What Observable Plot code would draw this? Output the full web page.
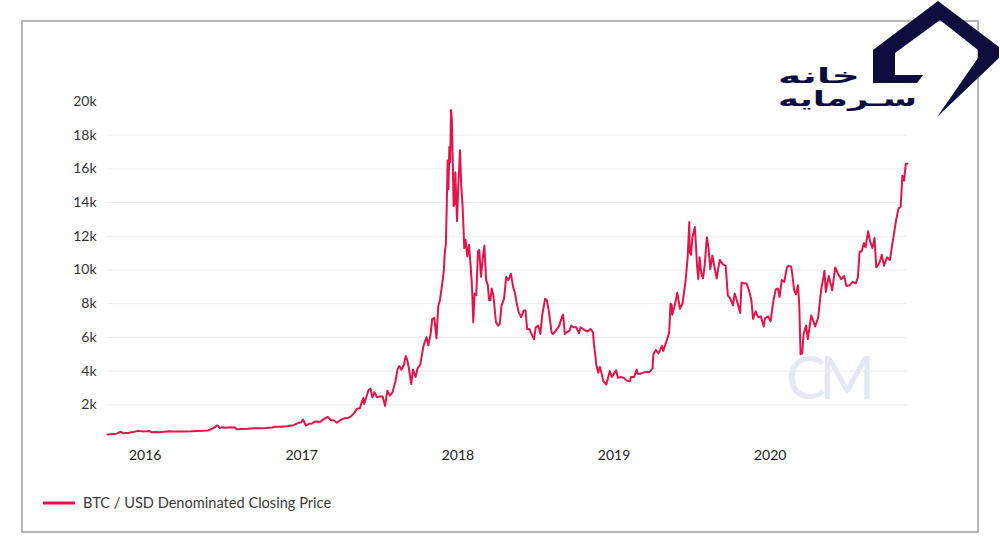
<!DOCTYPE html>
<html>
<head>
<meta charset="utf-8">
<script src="https://cdn.jsdelivr.net/npm/d3@7"></script>
<script src="https://cdn.jsdelivr.net/npm/@observablehq/plot@0.6"></script>
<style>
  html, body { margin: 0; padding: 0; background: #fff; }
  #chart { width: 1000px; height: 552px; }
</style>
</head>
<body>
<div id="chart"></div>
<script>
const dates = [
"2015-10-05","2015-10-12","2015-10-19","2015-10-26","2015-11-02","2015-11-04","2015-11-07","2015-11-11","2015-11-16","2015-11-23","2015-11-30","2015-12-07","2015-12-15","2015-12-21","2015-12-28",
"2016-01-04","2016-01-11","2016-01-15","2016-01-25","2016-02-01","2016-02-15","2016-02-25","2016-03-07","2016-03-21","2016-04-04","2016-04-18","2016-05-02","2016-05-16","2016-05-27","2016-06-06","2016-06-12","2016-06-16","2016-06-19","2016-06-23","2016-06-30","2016-07-07","2016-07-18","2016-07-29","2016-08-02","2016-08-15","2016-08-29","2016-09-12","2016-09-26","2016-10-10","2016-10-24","2016-10-31","2016-11-14","2016-11-28","2016-12-12","2016-12-23","2016-12-31",
"2017-01-04","2017-01-08","2017-01-11","2017-01-18","2017-01-25","2017-02-02","2017-02-13","2017-02-23","2017-03-03","2017-03-10","2017-03-17","2017-03-24","2017-04-01","2017-04-11","2017-04-18","2017-04-26","2017-05-04","2017-05-10","2017-05-17","2017-05-20","2017-05-25","2017-05-27","2017-06-01","2017-06-06","2017-06-11","2017-06-15","2017-06-20","2017-06-26","2017-07-02","2017-07-09","2017-07-15","2017-07-20","2017-07-26","2017-08-01","2017-08-08","2017-08-13","2017-08-17","2017-08-22","2017-08-28","2017-09-01","2017-09-05","2017-09-08","2017-09-14","2017-09-18","2017-09-24","2017-09-29","2017-10-05","2017-10-12","2017-10-16","2017-10-20","2017-10-24","2017-10-29","2017-11-02","2017-11-07","2017-11-12","2017-11-16","2017-11-20","2017-11-26","2017-11-29","2017-12-01","2017-12-04","2017-12-06","2017-12-08","2017-12-10","2017-12-12","2017-12-14","2017-12-16","2017-12-18","2017-12-20","2017-12-22","2017-12-24","2017-12-26","2017-12-28","2017-12-30",
"2018-01-02","2018-01-06","2018-01-09","2018-01-12","2018-01-16","2018-01-19","2018-01-23","2018-01-27","2018-01-31","2018-02-03","2018-02-06","2018-02-09","2018-02-13","2018-02-17","2018-02-20","2018-02-24","2018-03-01","2018-03-04","2018-03-08","2018-03-12","2018-03-15","2018-03-18","2018-03-21","2018-03-25","2018-03-31","2018-04-05","2018-04-09","2018-04-13","2018-04-19","2018-04-24","2018-04-29","2018-05-05","2018-05-10","2018-05-14","2018-05-18","2018-05-23","2018-05-29","2018-06-04","2018-06-08","2018-06-12","2018-06-17","2018-06-24","2018-06-28","2018-07-02","2018-07-08","2018-07-13","2018-07-17","2018-07-24","2018-07-28","2018-08-02","2018-08-08","2018-08-11","2018-08-15","2018-08-21","2018-08-26","2018-09-01","2018-09-04","2018-09-08","2018-09-12","2018-09-19","2018-09-23","2018-09-29","2018-10-05","2018-10-11","2018-10-15","2018-10-23","2018-10-31","2018-11-07","2018-11-13","2018-11-15","2018-11-19","2018-11-20","2018-11-25","2018-11-29","2018-12-03","2018-12-07","2018-12-14","2018-12-19","2018-12-22","2018-12-27",
"2019-01-01","2019-01-06","2019-01-10","2019-01-17","2019-01-24","2019-01-30","2019-02-07","2019-02-10","2019-02-17","2019-02-23","2019-02-25","2019-03-05","2019-03-15","2019-03-25","2019-04-01","2019-04-03","2019-04-09","2019-04-15","2019-04-23","2019-04-26","2019-05-04","2019-05-10","2019-05-13","2019-05-16","2019-05-17","2019-05-23","2019-05-29","2019-06-04","2019-06-10","2019-06-17","2019-06-22","2019-06-26","2019-06-27","2019-06-30","2019-07-03","2019-07-09","2019-07-14","2019-07-17","2019-07-20","2019-07-24","2019-07-28","2019-08-01","2019-08-06","2019-08-10","2019-08-14","2019-08-19","2019-08-24","2019-08-29","2019-09-05","2019-09-12","2019-09-19","2019-09-24","2019-09-30","2019-10-06","2019-10-10","2019-10-15","2019-10-23","2019-10-26","2019-11-01","2019-11-07","2019-11-13","2019-11-18","2019-11-22","2019-11-28","2019-12-04","2019-12-10","2019-12-17","2019-12-20","2019-12-27",
"2020-01-02","2020-01-08","2020-01-14","2020-01-19","2020-01-23","2020-01-28","2020-02-03","2020-02-09","2020-02-13","2020-02-19","2020-02-22","2020-02-26","2020-03-01","2020-03-06","2020-03-09","2020-03-12","2020-03-16","2020-03-19","2020-03-25","2020-03-29","2020-04-06","2020-04-12","2020-04-15","2020-04-22","2020-04-29","2020-05-07","2020-05-10","2020-05-17","2020-05-25","2020-06-01","2020-06-08","2020-06-15","2020-06-22","2020-06-27","2020-07-05","2020-07-12","2020-07-19","2020-07-24","2020-07-28","2020-08-02","2020-08-07","2020-08-11","2020-08-17","2020-08-22","2020-08-27","2020-09-01","2020-09-05","2020-09-12","2020-09-18","2020-09-23","2020-09-30","2020-10-07","2020-10-12","2020-10-21","2020-10-27","2020-11-01","2020-11-05","2020-11-09","2020-11-13","2020-11-17"
];
const prices = [
240,247,265,285,360,403,373,305,330,323,378,395,455,438,422,
433,448,375,392,372,402,424,411,412,420,428,444,454,474,585,672,766,763,624,673,639,673,655,545,567,574,607,606,617,653,700,704,733,780,918,963,
1130,905,777,870,893,1010,996,1180,1275,1100,1070,937,1080,1207,1210,1310,1520,1760,1800,2050,2400,2050,2450,2860,2960,2450,2750,2450,2500,2500,1930,2830,2550,2720,3400,4100,4300,4080,4380,4890,4620,4230,3230,4100,3650,4180,4370,5430,5750,6000,5530,6150,7100,7150,5950,7850,8200,9300,9900,10850,11600,13800,16500,14800,17300,16400,19500,18900,16500,13800,13900,15800,14400,12900,
15000,17100,14900,13800,11300,11800,10800,11500,10200,9000,6900,8600,8500,11100,11200,9600,10900,11450,9400,9100,8200,8200,8900,8500,6900,6700,6800,7900,8300,9600,9400,9780,9000,8700,8100,7500,7200,7600,7600,6500,6500,6100,5900,6600,6700,6200,7300,8300,8200,7500,6300,6200,6300,6500,6700,7200,7350,6200,6300,6400,6700,6600,6600,6250,6600,6450,6350,6500,6300,5600,4800,4450,3900,4250,3850,3400,3200,3700,4000,3650,
3850,4050,3600,3650,3600,3450,3400,3650,3650,4100,3850,3850,3950,3950,4150,5000,5250,5050,5500,5200,5800,6300,8000,7900,7350,7900,8650,7700,8000,9300,10700,12850,11050,10900,11900,12550,10300,9450,10750,9800,9500,10300,11950,11300,10050,10850,10150,9500,10600,10350,10250,8500,8300,7900,8600,8200,7450,9250,9200,9200,8750,8200,7100,7550,7200,7250,6650,7150,7250,
6950,8100,8850,8900,8400,9400,9300,10150,10250,10200,9700,8800,8550,9100,7900,5000,5050,6200,6700,5900,7300,6900,6650,7150,8800,9950,8700,9650,8800,10150,9750,9450,9650,9050,9100,9300,9200,9550,11100,11100,11600,11350,12300,11650,11300,11900,10150,10400,10900,10250,10750,10600,11450,12900,13650,13750,15600,15300,16300,16300
];
const yTicks = [2000,4000,6000,8000,10000,12000,14000,16000,18000,20000];
const gridValues = [2000,4000,6000,8000,10000,12000,14000,16000,18000];
const xTicks = ["2016-01-01","2017-01-01","2018-01-01","2019-01-01","2020-01-01"];
const seriesName = "BTC / USD Denominated Closing Price";
const lineColor = "#e0164b";

const parse = d3.utcParse("%Y-%m-%d");
const data = dates.map((d, i) => ({date: parse(d), price: prices[i]}));

const chart = Plot.plot({
  width: 1000,
  height: 552,
  marginLeft: 107,
  marginRight: 93,
  marginTop: 101,
  marginBottom: 114,
  style: {background: "#fff", fontFamily: "Lato, 'Open Sans', sans-serif"},
  x: {type: "utc", domain: [data[0].date, data[data.length - 1].date]},
  y: {domain: [0, 20000]},
  marks: [
    Plot.ruleY(gridValues, {stroke: "#ececec", strokeWidth: 1}),
    Plot.axisY({ticks: yTicks, tickSize: 0, tickPadding: 11, tickFormat: d => d / 1000 + "k", fontSize: 14, fill: "#333", label: null}),
    Plot.axisX({ticks: xTicks.map(parse), tickSize: 0, tickPadding: 12, tickFormat: d3.utcFormat("%Y"), fontSize: 14, fill: "#222", label: null}),
    Plot.line(data, {x: "date", y: "price", stroke: lineColor, strokeWidth: 2, strokeLinejoin: "round"})
  ]
});

document.getElementById("chart").appendChild(chart);

const svg = d3.select(chart);

// watermark behind the line
svg.insert("text", ":first-child")
  .attr("x", 827).attr("y", 399)
  .attr("text-anchor", "middle")
  .attr("font-family", "Lato, sans-serif")
  .attr("font-weight", 400)
  .attr("font-size", 60)
  .attr("letter-spacing", -7)
  .attr("fill", "#e5e8f2")
  .text("CM");
svg.insert("rect", ":first-child")
  .attr("x", 0).attr("y", 0).attr("width", 1000).attr("height", 552).attr("fill", "#fff");

// frame
svg.append("rect")
  .attr("x", 22).attr("y", 21).attr("width", 956).attr("height", 511)
  .attr("fill", "none").attr("stroke", "#a0a0a0").attr("stroke-width", 1.5);

// legend
svg.append("line")
  .attr("x1", 43).attr("x2", 75).attr("y1", 503).attr("y2", 503)
  .attr("stroke", lineColor).attr("stroke-width", 3);
svg.append("text")
  .attr("x", 83).attr("y", 508)
  .attr("text-anchor", "start")
  .attr("font-family", "Lato, sans-serif")
  .attr("font-size", 14.6)
  .attr("fill", "#3a3a3a")
  .text(seriesName);

// logo
const navy = "#0e0d3d";
const logo = svg.append("g");
logo.append("path")
  .attr("d", "M938,1 L999,47 L999,58 L937,117 L978,58 L978,50 L940,20 L895,53 L895,75 L923,75 L917,83 L873,83 L873,50 Z")
  .attr("fill", navy);

function fitText(text, x0, x1, yBase, size) {
  const t = logo.append("text")
    .attr("x", 0).attr("y", yBase)
    .attr("text-anchor", "start")
    .attr("font-family", "DejaVu Sans, sans-serif")
    .attr("font-weight", "bold")
    .attr("font-size", size)
    .attr("fill", navy)
    .text(text);
  const b = t.node().getBBox();
  const s = (x1 - x0) / b.width;
  t.attr("transform", `translate(${x0 - b.x * s},0) scale(${s},1)`);
}
fitText("خانه", 778, 860, 83, 21);
fitText("سـرمایه", 778, 917, 106, 21);
</script>
</body>
</html>
